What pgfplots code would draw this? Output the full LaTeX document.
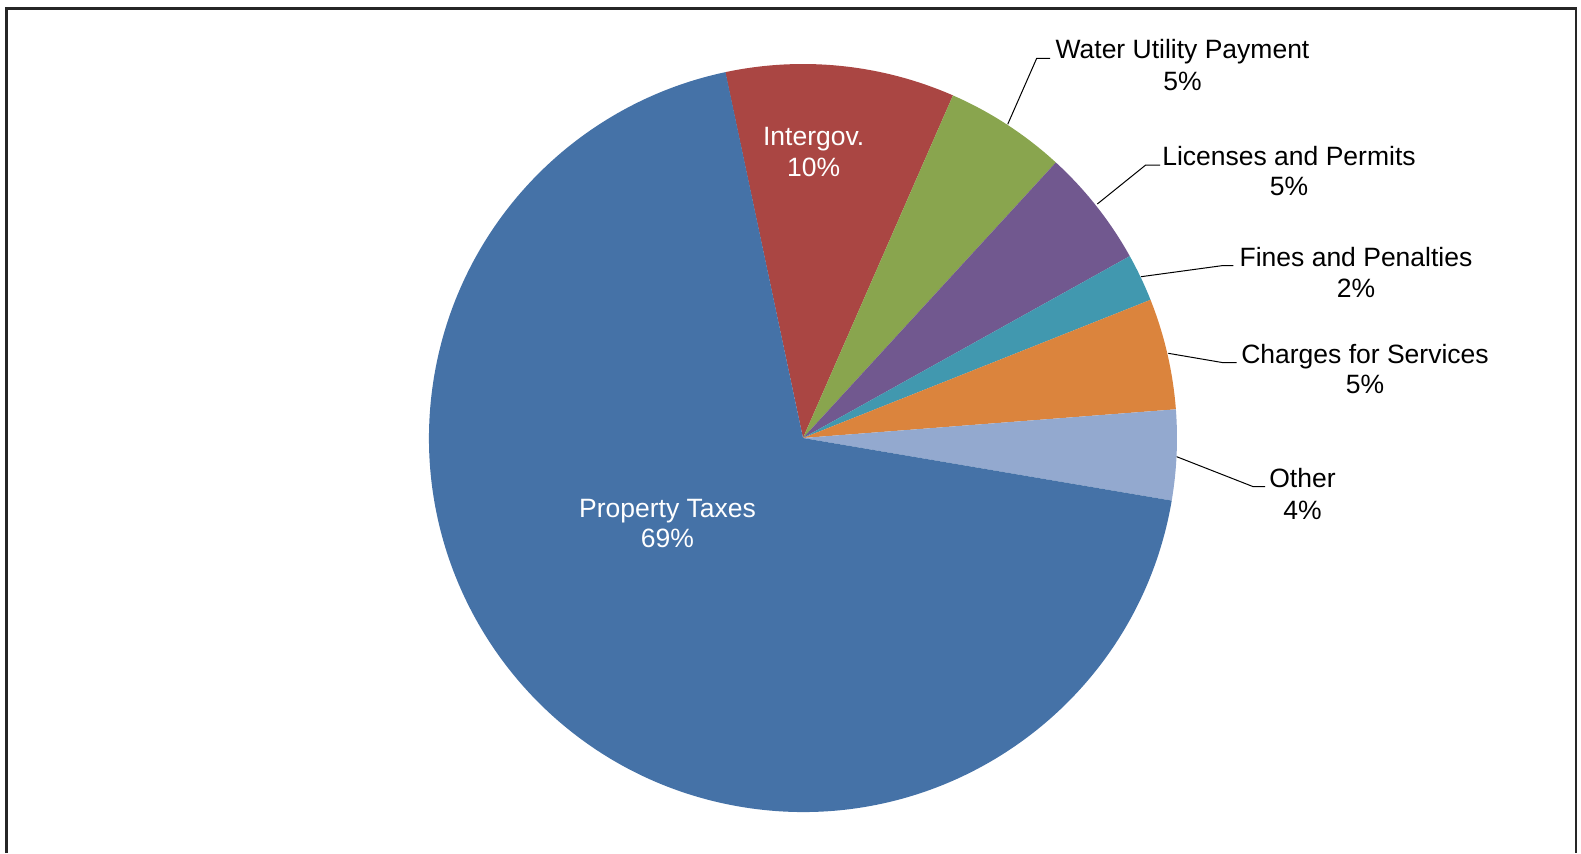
\documentclass[border=0pt]{standalone}
\usepackage{pgfplots}
\pgfplotsset{compat=1.18}
\usepackage{pgfplotstable}
\usepackage{fontspec}
\setmainfont{Liberation Sans}
\definecolor{cProp}{HTML}{4572A7}
\definecolor{cInter}{HTML}{AA4643}
\definecolor{cWater}{HTML}{89A54E}
\definecolor{cLic}{HTML}{71588F}
\definecolor{cFines}{HTML}{4198AF}
\definecolor{cCharges}{HTML}{DB843D}
\definecolor{cOther}{HTML}{93A9CF}

% slices in clockwise order, starting at 102 degrees (percent of total)
\pgfplotstableread[col sep=comma]{
label,value,color
Intergov.,9.9,cInter
Water Utility Payment,5.25,cWater
Licenses and Permits,5.1,cLic
Fines and Penalties,2.06,cFines
Charges for Services,4.8,cCharges
Other,3.9,cOther
Property Taxes,69.0,cProp
}\piedata

\begin{document}
\begin{tikzpicture}[font=\fontsize{13.25}{15.5}\selectfont]
\begin{axis}[
  x=0.5pt, y=0.5pt,
  xmin=0, xmax=1581, ymin=0, ymax=853,
  y dir=reverse,
  hide axis,
  clip=false,
]
\pgfplotstablegetrowsof{\piedata}
\pgfmathtruncatemacro{\lastrow}{\pgfplotsretval-1}
\def\startang{102}
\pgfplotsforeachungrouped \i in {0,...,\lastrow}{%
  \pgfplotstablegetelem{\i}{value}\of{\piedata}\let\val\pgfplotsretval
  \pgfplotstablegetelem{\i}{color}\of{\piedata}\let\col\pgfplotsretval
  \pgfmathsetmacro{\endang}{\startang-3.6*\val}%
  \edef\doslice{\noexpand\fill[\col] (axis cs:803,438) -- ++(\startang:187pt) arc[start angle=\startang, end angle=\endang, radius=187pt] -- cycle;}%
  \doslice
  \global\let\startang\endang
}

% leader lines
\addplot[black, line width=0.5pt, no marks] coordinates {(1007.7,124.3) (1036.7,58.3) (1050,58.3)};
\addplot[black, line width=0.5pt, no marks] coordinates {(1097.3,204) (1145.7,165) (1160,165)};
\addplot[black, line width=0.5pt, no marks] coordinates {(1141,276.7) (1221.7,265.7) (1233.3,265.7)};
\addplot[black, line width=0.5pt, no marks] coordinates {(1168.3,353.3) (1223.3,362.7) (1236.7,362.7)};
\addplot[black, line width=0.5pt, no marks] coordinates {(1176.7,456.7) (1253.3,486.7) (1265,486.7)};

% labels
\node[anchor=base] at (axis cs:1182.5,58.5) {Water Utility Payment};
\node[anchor=base] at (axis cs:1182.5,90) {5\%};
\node[anchor=base] at (axis cs:1289,165) {Licenses and Permits};
\node[anchor=base] at (axis cs:1289,195.5) {5\%};
\node[anchor=base] at (axis cs:1356,266.7) {Fines and Penalties};
\node[anchor=base] at (axis cs:1356,297.3) {2\%};
\node[anchor=base] at (axis cs:1365,363) {Charges for Services};
\node[anchor=base] at (axis cs:1365,393.5) {5\%};
\node[anchor=base] at (axis cs:1302.5,487.5) {Other};
\node[anchor=base] at (axis cs:1302.5,519) {4\%};
\node[anchor=base, white] at (axis cs:813.7,145.5) {Intergov.};
\node[anchor=base, white] at (axis cs:813.7,176.5) {10\%};
\node[anchor=base, white] at (axis cs:667.5,517) {Property Taxes};
\node[anchor=base, white] at (axis cs:667.5,547.5) {69\%};

% frame (bottom edge cut off)
\draw[line width=1.1pt, black!85, line cap=butt] (axis cs:6.5,853) -- (axis cs:6.5,8.5) -- (axis cs:1576,8.5) -- (axis cs:1576,853);
\end{axis}
\pgfresetboundingbox
\path (current axis.south west) rectangle (current axis.north east);
\end{tikzpicture}
\end{document}
